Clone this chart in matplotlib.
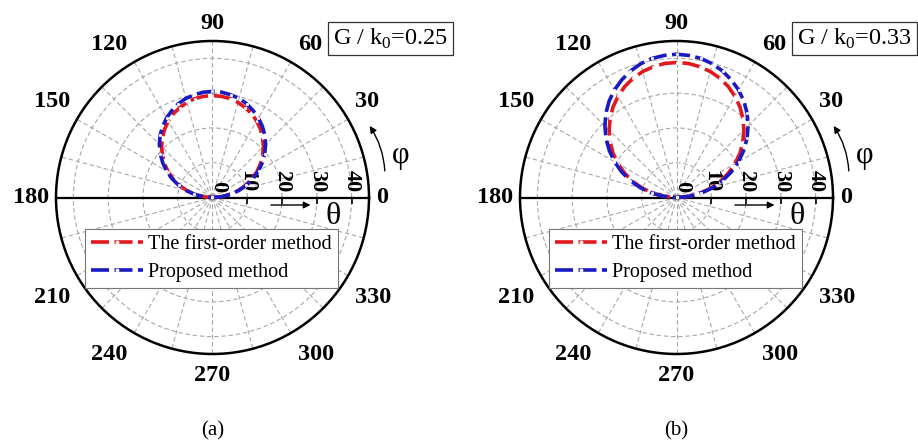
import numpy as np
import matplotlib
matplotlib.use("Agg")
import matplotlib.pyplot as plt
from matplotlib.ticker import FixedLocator

plt.rcParams['font.family'] = ['Liberation Serif', 'DejaVu Serif']
plt.rcParams['mathtext.fontset'] = 'custom'
plt.rcParams['mathtext.rm'] = 'Liberation Serif'

# Azimuth angle phi (degrees) and the deflection theta for each method
phi_deg = [0, 5, 10, 15, 20, 25, 30, 35, 40, 45, 50, 55, 60, 65, 70, 75, 80, 85, 90,
           95, 100, 105, 110, 115, 120, 125, 130, 135, 140, 145, 150, 155, 160,
           165, 170, 175, 180]

theta_first_a = [0.0, 2.6, 5.1, 7.6, 10.0, 12.4, 14.7, 16.8, 18.8, 20.7, 22.4,
                 24.0, 25.4, 26.6, 27.5, 28.3, 28.9, 29.2, 29.3,
                 29.2, 28.9, 28.3, 27.5, 26.6, 25.4, 24.0, 22.4, 20.7, 18.8,
                 16.8, 14.7, 12.4, 10.0, 7.6, 5.1, 2.6, 0.0]
theta_prop_a = [0.0, 2.7, 5.3, 7.9, 10.4, 12.9, 15.3, 17.5, 19.6, 21.6, 23.4,
                25.0, 26.4, 27.6, 28.7, 29.5, 30.0, 30.4, 30.5,
                30.4, 30.0, 29.5, 28.7, 27.6, 26.4, 25.0, 23.4, 21.6, 19.6,
                17.5, 15.3, 12.9, 10.4, 7.9, 5.3, 2.7, 0.0]

theta_first_b = [0.0, 3.4, 6.7, 10.0, 13.3, 16.4, 19.4, 22.3, 24.9, 27.4, 29.7,
                 31.8, 33.6, 35.2, 36.5, 37.5, 38.2, 38.7, 38.8,
                 38.7, 38.2, 37.5, 36.5, 35.2, 33.6, 31.8, 29.7, 27.4, 24.9,
                 22.3, 19.4, 16.4, 13.3, 10.0, 6.7, 3.4, 0.0]
theta_prop_b = [0.0, 3.6, 7.2, 10.7, 14.1, 17.4, 20.6, 23.6, 26.5, 29.1, 31.6,
                33.8, 35.7, 37.3, 38.7, 39.8, 40.6, 41.0, 41.2,
                41.0, 40.6, 39.8, 38.7, 37.3, 35.7, 33.8, 31.6, 29.1, 26.5,
                23.6, 20.6, 17.4, 14.1, 10.7, 7.2, 3.6, 0.0]

angle_ticks = [0, 30, 60, 90, 120, 150, 180, 210, 240, 270, 300, 330]
radial_ticks = [0, 10, 20, 30, 40]
r_max = 45

panels = [
    dict(first=theta_first_a, prop=theta_prop_a, ratio="0.25", tag="(a)", cx=212.5),
    dict(first=theta_first_b, prop=theta_prop_b, ratio="0.33", tag="(b)", cx=676.5),
]

W, H = 918, 443
fig = plt.figure(figsize=(W / 100, H / 100), dpi=100)

RED = '#e3181f'
BLUE = '#1a1ac4'
GRID = '#a8a8a8'

cy = 197.5
rad_px = 156.5

for p in panels:
    left = (p['cx'] - rad_px) / W
    bottom = (H - cy - rad_px) / H
    ax = fig.add_axes([left, bottom, 2 * rad_px / W, 2 * rad_px / H],
                      projection='polar')
    ax.set_ylim(0, r_max)

    # angular grid: spokes every 15 deg, inward ticks every 30 deg
    ax.xaxis.set_major_locator(FixedLocator(np.deg2rad(angle_ticks)))
    ax.xaxis.set_minor_locator(FixedLocator(np.deg2rad(np.arange(15, 360, 30))))
    ax.set_xticklabels([])
    ax.tick_params(axis='x', which='major', direction='in', length=6,
                   width=1.5, color='black', pad=0)
    ax.tick_params(axis='x', which='minor', length=0)
    ax.set_yticks(radial_ticks[1:])
    ax.set_yticklabels([])
    ax.grid(True, which='both', color=GRID, linestyle=(0, (4, 2.5)),
            linewidth=0.8)
    ax.spines['polar'].set_linewidth(1.8)

    # angle labels around the rim
    for a in angle_ticks:
        t = np.deg2rad(a)
        c, s = np.cos(t), np.sin(t)
        ha = 'left' if c > 0.1 else ('right' if c < -0.1 else 'center')
        va = 'bottom' if s > 0.1 else ('top' if s < -0.1 else 'center')
        ox = 0.0 if abs(c) <= 0.1 else np.sign(c) * 5.0
        oy = 0.0 if abs(s) <= 0.1 else (5.0 if s > 0 else -8.0)
        ax.annotate(str(a), xy=(t, r_max), xytext=(ox, oy),
                    textcoords='offset points', ha=ha, va=va,
                    fontsize=17.5, fontweight='bold', annotation_clip=False)

    # horizontal 0-180 axis line
    ax.plot([0, 1], [0.5, 0.5], transform=ax.transAxes, color='black',
            lw=1.6, clip_on=False, zorder=4)
    # radial tick marks and labels along it
    ax.plot(np.zeros(len(radial_ticks) - 1), radial_ticks[1:], ls='none',
            marker=3, ms=5, mew=1.2, color='black', zorder=4, clip_on=False)
    for rv in radial_ticks:
        rr = rv + (1.5 if rv == 0 else 0.0)
        ax.annotate(str(rv), xy=(0, rr), xytext=(0, 4),
                    textcoords='offset points', ha='center', va='bottom',
                    rotation=-90, fontsize=16, fontweight='bold', zorder=5)

    phi = np.deg2rad(phi_deg)
    ax.plot(phi, p['first'], color=RED, lw=2.6, ls=(0, (5, 1.5)),
            marker='o', ms=2.0, mfc='white', mec='white', mew=0.3,
            markevery=2, label='The first-order method', zorder=6)
    ax.plot(phi, p['prop'], color=BLUE, lw=2.6, ls=(0, (5, 1.5)),
            marker='o', ms=2.0, mfc='white', mec='white', mew=0.3,
            markevery=2, label='Proposed method', zorder=6)

    # theta direction arrow
    ax.annotate('', xy=(0.822, 0.476), xytext=(0.678, 0.476),
                xycoords='axes fraction', textcoords='axes fraction',
                arrowprops=dict(arrowstyle='-|>', color='black', lw=1.0,
                                mutation_scale=10),
                annotation_clip=False)
    ax.text(0.885, 0.438, r'$\mathregular{\theta}$', transform=ax.transAxes,
            ha='center', va='center', fontsize=23)

    # phi direction arrow
    ax.annotate('', xy=(0.997, 0.736), xytext=(1.051, 0.576),
                xycoords='axes fraction', textcoords='axes fraction',
                arrowprops=dict(arrowstyle='-|>', color='black', lw=1.0,
                                mutation_scale=10,
                                connectionstyle='arc3,rad=0.15'),
                annotation_clip=False)
    ax.text(1.099, 0.627, r'$\mathregular{\varphi}$', transform=ax.transAxes,
            ha='center', va='center', fontsize=22)

    # parameter box
    ax.text(1.068, 1.008, r'G / k$_\mathregular{0}$=' + p['ratio'],
            transform=ax.transAxes, ha='center', va='center', fontsize=17.5,
            bbox=dict(boxstyle='square,pad=0.2', fc='white', ec='#333333',
                      lw=0.9))

    leg = ax.legend(loc='upper left',
                    bbox_to_anchor=((p['cx'] - 127.5) / W, 1 - 229 / H),
                    bbox_transform=fig.transFigure, fontsize=14.5,
                    frameon=True, fancybox=False, borderaxespad=0,
                    handlelength=2.6, handletextpad=0.25, borderpad=0.3,
                    labelspacing=0.45, framealpha=1, markerscale=1.2)
    leg.get_frame().set_edgecolor('#777777')
    leg.get_frame().set_linewidth(0.8)
    leg.set_zorder(10)

    fig.text(p['cx'] / W, 1 - 431 / H, p['tag'], ha='center', va='center',
             fontsize=15)

fig.savefig('out.png', dpi=100)
